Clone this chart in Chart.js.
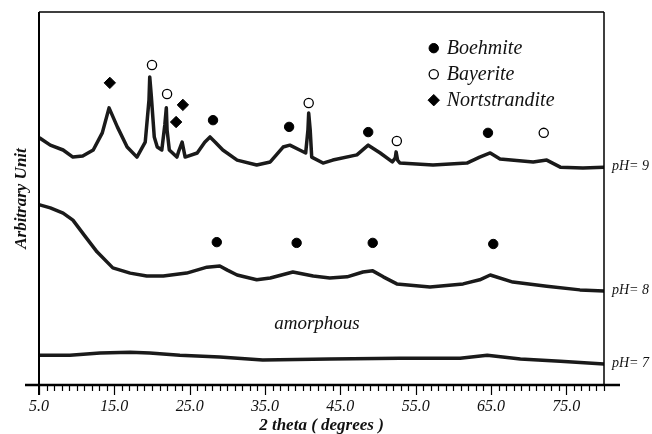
<!DOCTYPE html>
<html>
<head>
<meta charset="utf-8">
<script src="https://cdn.jsdelivr.net/npm/chart.js@4.4.0/dist/chart.umd.min.js"></script>
<style>
  html, body { margin: 0; padding: 0; background: #fff; }
  #wrap { width: 652px; height: 434px; position: relative; }
</style>
</head>
<body>
<div id="wrap"><canvas id="chart"></canvas></div>
<script>
// x tick labels (2 theta) and y range
const xTicks = [5, 15, 25, 35, 45, 55, 65, 75];
const xMin = 5, xMax = 80, minorStep = 1;

// pH = 9 pattern  [2theta, intensity]
const ph9 = [
  [5.1, 66.2], [6.5, 64.3], [8.2, 63.0], [9.5, 61.1], [10.8, 61.4], [12.2, 63.0],
  [13.4, 67.6], [14.3, 74.3], [15.4, 69.2], [16.7, 63.8], [18.0, 61.1], [19.1, 65.1],
  [19.6, 76.4], [19.7, 82.6], [19.9, 77.7], [20.3, 66.5], [20.7, 63.8], [21.3, 63.0],
  [21.7, 69.7], [21.9, 74.3], [22.0, 68.4], [22.3, 63.0], [23.3, 61.1], [23.6, 63.0],
  [24.0, 65.1], [24.4, 61.1], [26.0, 62.2], [27.0, 65.1], [27.7, 66.5], [28.4, 65.1],
  [29.4, 63.0], [31.3, 60.3], [33.9, 59.0], [35.7, 59.8], [37.4, 63.8], [38.3, 64.3],
  [39.6, 63.0], [40.4, 62.2], [40.7, 68.4], [40.8, 72.9], [41.0, 68.4], [41.2, 61.1],
  [42.7, 59.5], [44.0, 60.3], [47.2, 61.7], [48.7, 64.3], [50.3, 62.2], [51.9, 59.8],
  [52.3, 60.9], [52.4, 62.5], [52.6, 60.3], [52.9, 59.5], [57.3, 59.0], [61.8, 59.5],
  [63.5, 61.1], [64.9, 62.2], [66.2, 60.6], [70.6, 59.8], [72.4, 60.3], [74.2, 58.4],
  [77.2, 58.2], [80.0, 58.4]
];
// pH = 8 pattern
const ph8 = [
  [5.1, 48.3], [6.5, 47.5], [8.2, 46.1], [9.5, 44.2], [11.1, 39.9], [12.7, 35.7],
  [14.8, 31.4], [17.1, 30.0], [19.3, 29.2], [21.5, 29.2], [24.6, 30.0], [27.3, 31.6],
  [29.0, 31.9], [30.0, 30.8], [31.3, 29.5], [33.9, 28.2], [35.7, 28.7], [38.7, 30.3],
  [41.4, 29.2], [43.6, 28.7], [45.9, 29.0], [48.0, 30.3], [49.3, 30.6], [50.7, 29.0],
  [52.5, 27.1], [56.9, 26.3], [61.3, 27.1], [63.5, 28.2], [64.9, 29.5], [67.9, 27.6],
  [72.4, 26.5], [76.8, 25.5], [80.0, 25.2]
];
// pH = 7 pattern
const ph7 = [
  [5.1, 8.0], [9.1, 8.0], [13.1, 8.6], [17.1, 8.8], [19.7, 8.6], [23.7, 8.0],
  [29.0, 7.5], [34.7, 6.7], [43.6, 7.0], [52.9, 7.2], [60.9, 7.2], [64.5, 8.0],
  [68.9, 7.0], [74.2, 6.4], [80.0, 5.6]
];

// phase markers
const boehmite = [[28.1, 71.0], [38.2, 69.2], [48.7, 67.8], [64.6, 67.6],
                  [28.6, 38.3], [39.2, 38.1], [49.3, 38.1], [65.3, 37.8]];
const bayerite = [[20.0, 85.8], [22.0, 78.0], [40.8, 75.6], [52.5, 65.4], [72.0, 67.6]];
const nortstrandite = [[14.4, 81.0], [24.1, 75.1], [23.2, 70.5]];

const traceNames = ['pH= 9', 'pH= 8', 'pH= 7'];
const phaseNames = ['Boehmite', 'Bayerite', 'Nortstrandite'];
const amorphousAt = [41.9, 16.4];

const serif = "'Liberation Serif', 'Times New Roman', serif";
const pts = a => a.map(p => ({ x: p[0], y: p[1] }));

const phaseStyles = [
  { pointStyle: 'circle', radius: 4.7, fill: '#000', stroke: '#000', borderWidth: 1 },
  { pointStyle: 'circle', radius: 4.6, fill: '#fff', stroke: '#000', borderWidth: 1.3 },
  { pointStyle: 'rectRot', radius: 5.7, fill: '#000', stroke: '#000', borderWidth: 1 }
];

function markerSet(name, data, st) {
  return {
    label: name, data: pts(data), showLine: false,
    pointStyle: st.pointStyle, pointRadius: st.radius,
    pointBackgroundColor: st.fill, pointBorderColor: st.stroke,
    pointBorderWidth: st.borderWidth, order: 0
  };
}
function traceSet(name, data) {
  return {
    label: name, data: pts(data), showLine: true, pointRadius: 0,
    borderColor: '#1a1a1a', borderWidth: 3.5, tension: 0, order: 1,
    borderJoinStyle: 'round', borderCapStyle: 'round'
  };
}

// legend marker, same shapes as the point styles
function marker(ctx, st, x, y) {
  ctx.fillStyle = st.fill; ctx.strokeStyle = st.stroke; ctx.lineWidth = st.borderWidth;
  ctx.beginPath();
  if (st.pointStyle === 'rectRot') {
    const r = st.radius;
    ctx.moveTo(x, y - r); ctx.lineTo(x + r, y); ctx.lineTo(x, y + r); ctx.lineTo(x - r, y);
    ctx.closePath();
  } else {
    ctx.arc(x, y, st.radius, 0, Math.PI * 2);
  }
  ctx.fill(); ctx.stroke();
}

const decor = {
  id: 'decor',
  afterDraw(chart) {
    const ctx = chart.ctx, ca = chart.chartArea;
    const xs = chart.scales.x, ys = chart.scales.y;
    ctx.save();
    ctx.strokeStyle = '#000';
    // frame
    ctx.lineWidth = 2;
    ctx.beginPath();
    ctx.moveTo(ca.left, ca.top); ctx.lineTo(ca.left, ca.bottom + 10);
    ctx.stroke();
    ctx.lineWidth = 1.5;
    ctx.beginPath();
    ctx.moveTo(ca.left, ca.top); ctx.lineTo(ca.right, ca.top);
    ctx.moveTo(ca.right, ca.top); ctx.lineTo(ca.right, ca.bottom);
    ctx.stroke();
    ctx.lineWidth = 2.5;
    ctx.beginPath();
    ctx.moveTo(ca.left - 14, ca.bottom); ctx.lineTo(ca.right + 16, ca.bottom);
    ctx.stroke();
    // tick marks
    ctx.lineWidth = 1.2;
    ctx.beginPath();
    for (let v = xMin; v <= xMax; v += minorStep) {
      const px = Math.round(xs.getPixelForValue(v)) + 0.5;
      const len = xTicks.includes(v) ? 10 : 6;
      ctx.moveTo(px, ca.bottom); ctx.lineTo(px, ca.bottom + len);
    }
    ctx.stroke();

    // legend
    const lx = xs.getPixelForValue(57.4), ly0 = ys.getPixelForValue(90.3);
    phaseNames.forEach((name, i) => {
      const y = ly0 + i * 26;
      marker(ctx, phaseStyles[i], lx, y);
      ctx.fillStyle = '#111';
      ctx.font = 'italic 20px ' + serif;
      ctx.textBaseline = 'middle';
      ctx.textAlign = 'left';
      ctx.fillText(name, lx + 13, y + 1);
    });

    // pH labels at the end of each trace
    ctx.font = 'italic 14px ' + serif;
    ctx.fillStyle = '#111';
    ctx.textBaseline = 'middle';
    ctx.textAlign = 'left';
    [ph9, ph8, ph7].forEach((d, i) => {
      const last = d[d.length - 1];
      ctx.fillText(traceNames[i], ca.right + 8, ys.getPixelForValue(last[1]) - 1);
    });

    // amorphous note
    ctx.font = 'italic 19px ' + serif;
    ctx.textAlign = 'center';
    ctx.fillText('amorphous', xs.getPixelForValue(amorphousAt[0]), ys.getPixelForValue(amorphousAt[1]));
    ctx.restore();
  }
};

new Chart(document.getElementById('chart'), {
  type: 'scatter',
  data: {
    datasets: [
      markerSet(phaseNames[0], boehmite, phaseStyles[0]),
      markerSet(phaseNames[1], bayerite, phaseStyles[1]),
      markerSet(phaseNames[2], nortstrandite, phaseStyles[2]),
      traceSet(traceNames[0], ph9),
      traceSet(traceNames[1], ph8),
      traceSet(traceNames[2], ph7)
    ]
  },
  plugins: [decor],
  options: {
    responsive: true,
    maintainAspectRatio: false,
    animation: false,
    layout: { padding: { left: 0, right: 48, top: 12, bottom: 0 } },
    plugins: { legend: { display: false }, tooltip: { enabled: false } },
    scales: {
      x: {
        type: 'linear', min: xMin, max: xMax,
        afterBuildTicks: s => { s.ticks = xTicks.map(v => ({ value: v })); },
        afterFit: s => { s.height = 49; },
        grid: { display: false, drawTicks: false },
        border: { display: false },
        ticks: {
          autoSkip: false, maxRotation: 0, padding: 12, color: '#111',
          font: { family: serif, style: 'italic', size: 16 },
          callback: v => Number(v).toFixed(1)
        },
        title: {
          display: true, text: '2 theta ( degrees )', color: '#111', padding: 0,
          font: { family: serif, style: 'italic', weight: 'bold', size: 17, lineHeight: 1.0 }
        }
      },
      y: {
        type: 'linear', min: 0, max: 100,
        afterFit: s => { s.width = 39; },
        grid: { display: false, drawTicks: false },
        border: { display: false },
        ticks: { display: false },
        title: {
          display: true, text: 'Arbitrary Unit', color: '#111', padding: { top: 11, bottom: 0 },
          font: { family: serif, style: 'italic', weight: 'bold', size: 17 }
        }
      }
    }
  }
});
</script>
</body>
</html>
